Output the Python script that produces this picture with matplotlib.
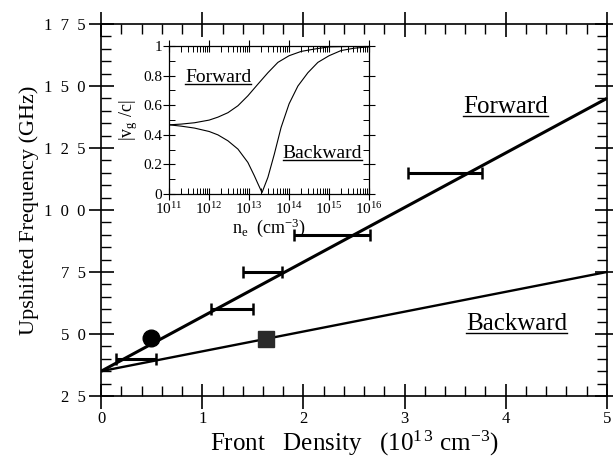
import matplotlib
matplotlib.use('Agg')
import matplotlib.pyplot as plt
from matplotlib.lines import Line2D
from matplotlib.ticker import MultipleLocator, LogLocator, NullFormatter

# fonts: Times-like serif everywhere
plt.rcParams['font.family'] = ['Liberation Serif', 'DejaVu Serif']
plt.rcParams['mathtext.fontset'] = 'custom'
plt.rcParams['mathtext.rm'] = 'Liberation Serif'
plt.rcParams['mathtext.it'] = 'Liberation Serif'

# measured upshifted frequency (forward), with density range
density_lo = [0.15, 1.09, 1.40, 1.91, 3.03]
density_hi = [0.54, 1.50, 1.79, 2.66, 3.77]
freq_fwd = [40, 60, 75, 90, 115]

# single points
circle_x, circle_y = [0.49], [48.3]
square_x, square_y = [1.63], [48.0]

# theory lines
fit_x = [0, 5]
fit_fwd = [35, 145]
fit_bwd = [35, 75]

# inset: |v_g/c| vs n_e
ne_fwd = [1e11, 2e11, 4.3e11, 1e12, 1.66e12, 2.95e12, 5.25e12, 9.3e12,
          1.66e13, 2.95e13, 5.25e13, 1e14, 2e14, 4.3e14, 1e15, 1e16]
vg_fwd = [0.468, 0.473, 0.482, 0.50, 0.52, 0.55, 0.597, 0.664,
          0.743, 0.82, 0.89, 0.935, 0.964, 0.98, 0.995, 1.0]
ne_bwd = [1e11, 2e11, 4.3e11, 1e12, 1.66e12, 2.95e12, 5.25e12, 9.3e12,
          1.35e13, 1.66e13, 2.1e13, 2.95e13, 4.27e13, 6.3e13, 1e14, 1.66e14,
          2.95e14, 5.25e14, 1e15, 2e15, 4.3e15, 1e16]
vg_bwd = [0.468, 0.459, 0.446, 0.423, 0.40, 0.36, 0.304, 0.214,
          0.124, 0.07, 0.01, 0.113, 0.27, 0.45, 0.61, 0.73,
          0.82, 0.89, 0.935, 0.97, 0.986, 0.995]

fig = plt.figure(figsize=(6.13, 4.61), dpi=100)
ax = fig.add_axes([0.165, 0.141, 0.825, 0.807])

ax.plot(fit_x, fit_fwd, color='k', lw=2.2, solid_capstyle='butt')
ax.plot(fit_x, fit_bwd, color='k', lw=1.7, solid_capstyle='butt')

x_mid = [(a + b) / 2 for a, b in zip(density_lo, density_hi)]
x_half = [(b - a) / 2 for a, b in zip(density_lo, density_hi)]
ax.errorbar(x_mid, freq_fwd, xerr=x_half, fmt='none', ecolor='k',
            elinewidth=2.2, capsize=4, capthick=1.8)
ax.plot(circle_x, circle_y, 'o', ms=12, color='k')
ax.plot(square_x, square_y, 's', ms=11, color='#2a2a2a')

ax.set_xlim(0, 5)
ax.set_ylim(25, 175)
ax.set_xticks([0, 1, 2, 3, 4, 5])
ax.set_yticks([25, 50, 75, 100, 125, 150, 175])
ax.set_yticklabels(['  '.join(str(v)) for v in [25, 50, 75, 100, 125, 150, 175]])
ax.xaxis.set_minor_locator(MultipleLocator(0.2))
ax.yaxis.set_minor_locator(MultipleLocator(5))
ax.tick_params(which='major', direction='inout', length=18, width=1.2,
               top=True, right=True, labelsize=12, pad=2)
ax.tick_params(which='minor', direction='in', length=7, width=1.0,
               top=True, right=True)
for s in ax.spines.values():
    s.set_linewidth(1.2)

ax.set_xlabel('Front   Density   (10$^{1\\,3}$ cm$^{-3}$)', fontsize=18, labelpad=1)
ax.set_ylabel('Upshifted Frequency (GHz)', fontsize=16, labelpad=4)

t1 = ax.text(4.0, 139, 'Forward', fontsize=18, ha='center', va='baseline')
t2 = ax.text(4.11, 51.6, 'Backward', fontsize=18, ha='center', va='baseline')

# inset
axi = fig.add_axes([0.276, 0.579, 0.326, 0.321])
axi.plot(ne_fwd, vg_fwd, color='k', lw=0.8)
axi.plot(ne_bwd, vg_bwd, color='k', lw=0.8)
axi.set_xscale('log')
axi.set_xlim(1e11, 1e16)
axi.set_ylim(0, 1)
axi.set_xticks([1e11, 1e12, 1e13, 1e14, 1e15, 1e16])
axi.set_xticklabels(['$10^{%d}$' % p for p in range(11, 17)])
axi.xaxis.set_minor_locator(LogLocator(base=10, subs=range(2, 10), numticks=20))
axi.xaxis.set_minor_formatter(NullFormatter())
axi.set_yticks([0, 0.2, 0.4, 0.6, 0.8, 1.0])
axi.set_yticklabels(['0', '0.2', '0.4', '0.6', '0.8', '1'])
axi.yaxis.set_minor_locator(MultipleLocator(0.1))
axi.tick_params(which='major', direction='inout', length=8, width=0.8,
                top=True, right=True, labelsize=11, pad=1)
axi.tick_params(which='minor', direction='in', length=4, width=0.7,
                top=True, right=True)
for s in axi.spines.values():
    s.set_linewidth(0.9)
axi.set_xlabel('n$_\\mathrm{e}$  (cm$^{-3}$)', fontsize=13, labelpad=0)
axi.set_ylabel('|v$_\\mathrm{g}$ /c|', fontsize=13, labelpad=2)

t3 = axi.text(10**12.23, 0.76, 'Forward', fontsize=14, ha='center', va='baseline')
t4 = axi.text(10**14.83, 0.243, 'Backward', fontsize=14, ha='center', va='baseline')

# underline the labels
fig.canvas.draw()
inv = fig.transFigure.inverted()
for t in [t1, t2, t3, t4]:
    bb = t.get_window_extent()
    yline = bb.y0 + 0.12 * t.get_fontsize()
    (x0, y0), (x1, y1) = inv.transform([(bb.x0, yline), (bb.x1, yline)])
    fig.add_artist(Line2D([x0, x1], [y0, y1], color='k', lw=1.0,
                          transform=fig.transFigure))

fig.savefig('out.png', dpi=100)
